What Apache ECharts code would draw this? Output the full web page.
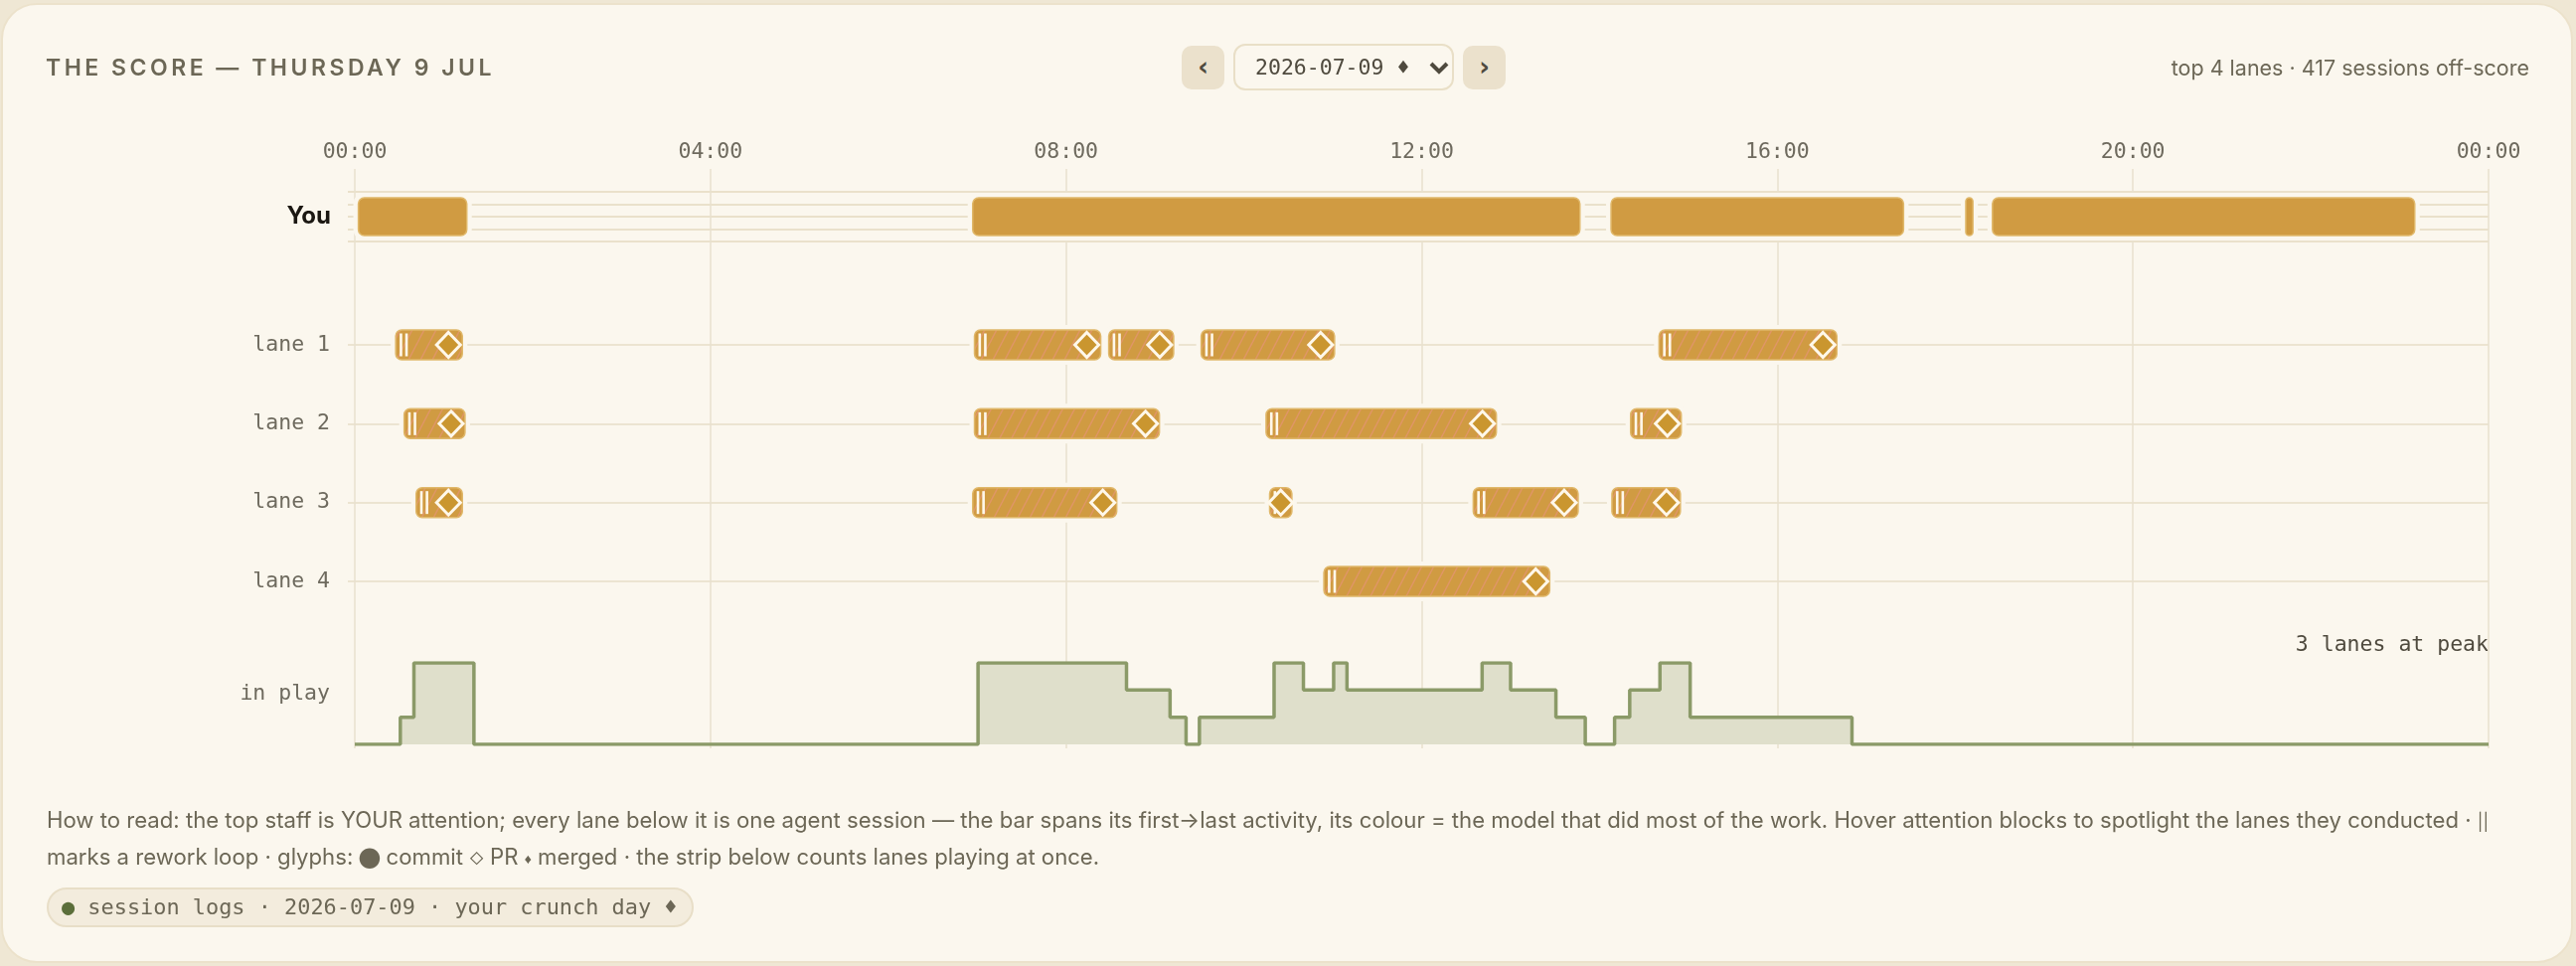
<!DOCTYPE html>
<html><head><meta charset="utf-8">
<script src="https://cdn.jsdelivr.net/npm/echarts@6/dist/echarts.min.js"></script>
<style>
html,body{margin:0;padding:0;width:2592px;height:972px;background:#EFE7D4;overflow:hidden;}
#card{position:absolute;left:1px;top:3px;width:2584px;height:962px;background:#FBF7EE;border:2px solid #ECE2CB;border-radius:36px;}
#chart{position:absolute;left:0;top:0;width:2592px;height:972px;}
.t{position:absolute;white-space:nowrap;}
#title{left:46px;top:53px;line-height:30px;font-family:Inter,sans-serif;font-weight:600;font-size:23px;letter-spacing:3.5px;color:#6C6756;}
#meta{right:47px;top:53px;line-height:30px;font-family:Inter,sans-serif;font-size:21.5px;color:#6C6756;}
.btn{position:absolute;top:46px;width:43px;height:44px;background:#EBE1CC;border-radius:10px;color:#4F4A3E;font-family:"DejaVu Sans",sans-serif;font-weight:bold;font-size:26px;line-height:42px;text-align:center;}
#sel{position:absolute;left:1241px;top:44px;width:218px;height:43px;border:2px solid #E9DFC7;border-radius:12px;background:#FBF7EE;}
#seltxt{position:absolute;left:20px;top:0;line-height:43px;font-family:"DejaVu Sans Mono",monospace;font-size:21.5px;color:#4F4A3E;}
#chev{position:absolute;left:195px;top:15px;}
.foot{left:47px;font-family:Inter,sans-serif;font-size:22.15px;color:#6C6756;line-height:30px;}
.g1{font-size:15px;vertical-align:1px;}
.g2{font-size:14px;vertical-align:1px;}
.g3{font-size:17px;}
#pill{position:absolute;left:47px;top:893px;width:647px;height:36px;background:#F3ECDD;border:2px solid #E8DEC7;border-radius:20px;}
#pilltxt{position:absolute;left:13px;top:0;line-height:36px;font-family:"DejaVu Sans Mono",monospace;font-size:21.9px;color:#6C6756;white-space:nowrap;}
#pilltxt b{color:#5B6E3A;font-weight:normal;}
</style></head>
<body>
<div id="card"></div>
<div id="chart"></div>
<div class="t" id="title">THE SCORE — THURSDAY 9 JUL</div>
<div class="btn" style="left:1189px">‹</div>
<div id="sel"><span id="seltxt">2026-07-09 ♦</span>
<svg id="chev" width="20" height="14" viewBox="0 0 20 14"><polyline points="2,3 10,11 18,3" fill="none" stroke="#4F4A3E" stroke-width="4"/></svg></div>
<div class="btn" style="left:1472px">›</div>
<div class="t" id="meta">top 4 lanes · 417 sessions off-score</div>
<div class="t foot" style="top:810px">How to read: the top staff is YOUR attention; every lane below it is one agent session — the bar spans its first→last activity, its colour = the model that did most of the work. Hover attention blocks to spotlight the lanes they conducted · <span class="g3">||</span></div>
<div class="t foot" style="top:847px">marks a rework loop · glyphs: <span class="g1">⬤</span> commit <span class="g2">◇</span> PR <span class="g2">♦</span> merged · the strip below counts lanes playing at once.</div>
<div id="pill"><span id="pilltxt"><b>●</b> session logs · 2026-07-09 · your crunch day ♦</span></div>
<script>
// ---- data (hours of the day) ----
const tickLabels = ['00:00','04:00','08:00','12:00','16:00','20:00','00:00'];
const youBlocks = [[0.04,1.26],[6.95,13.78],[14.13,17.42],[18.12,18.20],[18.42,23.17]];
const laneNames = ['lane 1','lane 2','lane 3','lane 4'];
const lane1 = [[0.46,1.21],[6.97,8.39],[8.48,9.21],[9.52,11.02],[14.67,16.67]];
const lane2 = [[0.555,1.24],[6.97,9.05],[10.25,12.84],[14.35,14.92]];
const lane3 = [[0.69,1.21],[6.95,8.57],[10.29,10.54],[12.58,13.76],[14.14,14.91]];
const lane4 = [[10.90,13.44]];
const playTimes  = [0,0.512,0.665,1.34,7.01,8.68,9.17,9.35,9.50,10.34,10.67,11.01,11.16,12.68,13.00,13.51,13.84,14.17,14.34,14.68,15.02,16.84,24];
const playCounts = [0,1,3,0,3,2,1,0,1,3,2,3,2,3,2,1,0,1,2,3,1,0,0];

// ---- styling ----
const BG = '#FBF7EE', GOLD = '#D09B42', GOLD_EDGE = '#E0B86A', WHITE = '#FFF8EA';
const MONO = '"DejaVu Sans Mono", monospace';
const X0 = 357, X1 = 2504, LEFT_EXT = 7;
const hourPx = (X1 - X0) / 24;
const extMin = -LEFT_EXT / hourPx;

function makeStripe(){
  const W = 12, H = 23;
  const c = document.createElement('canvas'); c.width = W; c.height = H;
  const g = c.getContext('2d'); g.fillStyle = GOLD; g.fillRect(0,0,W,H);
  g.strokeStyle = 'rgba(234,146,126,0.6)'; g.lineWidth = 1.5;
  for (const o of [-W,0,W]) { g.beginPath(); g.moveTo(o,H); g.lineTo(o+W,0); g.stroke(); }
  return c;
}
const stripe = makeStripe();

const laneData = [];
[lane1,lane2,lane3,lane4].forEach((arr,i)=>arr.forEach(b=>laneData.push([i,b[0],b[1]])));
const youData = youBlocks.map(b=>[2,b[0],b[1]]);

function renderYou(params, api){
  const p0 = api.coord([api.value(1), api.value(0)]);
  const p1 = api.coord([api.value(2), api.value(0)]);
  const h = 38, x = p0[0], w = Math.max(p1[0]-p0[0], 4), y = p0[1]-h/2;
  const r = Math.min(6, w/2);
  return {type:'group', children:[
    {type:'rect', shape:{x,y,width:w,height:h,r}, style:{fill:'none', stroke:BG, lineWidth:10}},
    {type:'rect', shape:{x,y,width:w,height:h,r}, style:{fill:GOLD, stroke:GOLD_EDGE, lineWidth:1.5}}
  ]};
}
function renderLane(params, api){
  const lane = api.value(0);
  const p0 = api.coord([api.value(1), lane]);
  const p1 = api.coord([api.value(2), lane]);
  const h = 30, x = p0[0], w = Math.max(p1[0]-p0[0], 6), y = p0[1]-h/2;
  const cx = Math.max(x + w - 14, x + w/2), cy = p0[1];
  return {type:'group', children:[
    {type:'rect', shape:{x,y,width:w,height:h,r:6}, style:{fill:'none', stroke:BG, lineWidth:10}},
    {type:'rect', shape:{x,y,width:w,height:h,r:6}, style:{fill:{image:stripe, repeat:'repeat'}, stroke:GOLD_EDGE, lineWidth:1.5}},
    {type:'rect', shape:{x:x+4,y:y+3.5,width:2.6,height:h-7}, style:{fill:WHITE}},
    {type:'rect', shape:{x:x+9.6,y:y+3.5,width:2.6,height:h-7}, style:{fill:WHITE}},
    {type:'polygon', shape:{points:[[cx,cy-12.5],[cx+12,cy],[cx,cy+12.5],[cx-12,cy]]}, style:{fill:'#CA962F', stroke:WHITE, lineWidth:3}}
  ]};
}

const hiddenX = (gi, min) => ({gridIndex:gi, type:'value', min:min, max:24, show:false});
const chart = echarts.init(document.getElementById('chart'), null, {renderer:'canvas'});
chart.setOption({
  animation:false,
  grid:[
    {left:X0, right:2592-X1, top:170, height:583},
    {left:X0-LEFT_EXT, right:2592-X1, top:193, height:50},
    {left:X0-LEFT_EXT, right:2592-X1, top:347, height:238},
    {left:X0, right:2592-X1, top:667, height:82}
  ],
  xAxis:[
    {gridIndex:0, type:'value', min:0, max:24, interval:4, position:'top',
     axisLine:{show:false}, axisTick:{show:false},
     splitLine:{show:true, lineStyle:{color:'#E8E1CE', width:1.5}},
     axisLabel:{margin:6, fontFamily:MONO, fontSize:21.5, color:'#6E6A5E', showMinLabel:true, showMaxLabel:true,
       formatter:v=>tickLabels[Math.round(v/4)]}},
    hiddenX(1, extMin), hiddenX(2, extMin), hiddenX(3, 0)
  ],
  yAxis:[
    {gridIndex:0, type:'value', show:false},
    {gridIndex:1, type:'value', min:0, max:4, interval:1, axisLine:{show:false}, axisTick:{show:false}, axisLabel:{show:false},
     splitLine:{show:true, lineStyle:{color:'#EAE1CB', width:2}}},
    {gridIndex:2, type:'category', data:laneNames, inverse:true, boundaryGap:false,
     axisLine:{show:false}, axisTick:{show:false},
     axisLabel:{margin:18, fontFamily:MONO, fontSize:21.5, color:'#6E6A5E'},
     splitLine:{show:true, lineStyle:{color:'#ECE4D1', width:2}}},
    {gridIndex:3, type:'value', min:0, max:3, show:false}
  ],
  series:[
    {type:'custom', xAxisIndex:1, yAxisIndex:1, data:youData, renderItem:renderYou, encode:{x:[1,2], y:0}},
    {type:'custom', xAxisIndex:2, yAxisIndex:2, data:laneData, renderItem:renderLane, encode:{x:[1,2], y:0}},
    {type:'line', xAxisIndex:3, yAxisIndex:3, step:'end', symbol:'none',
     data:playTimes.map((t,i)=>[t, playCounts[i]]),
     lineStyle:{color:'#8B9A68', width:3.5}, areaStyle:{color:'#DFDFCB', opacity:1}}
  ],
  graphic:[
    {type:'text', x:333, y:218, style:{text:'You', fill:'#1B1712', font:'bold 24px Inter, sans-serif', textAlign:'right', textVerticalAlign:'middle'}},
    {type:'text', x:332, y:698, style:{text:'in play', fill:'#6E6A5E', font:'21.5px "DejaVu Sans Mono", monospace', textAlign:'right', textVerticalAlign:'middle'}},
    {type:'text', x:X1, y:649, style:{text:Math.max(...playCounts)+' lanes at peak', fill:'#4F4A3E', font:'21.5px "DejaVu Sans Mono", monospace', textAlign:'right', textVerticalAlign:'middle'}}
  ]
});
</script>
</body></html>
